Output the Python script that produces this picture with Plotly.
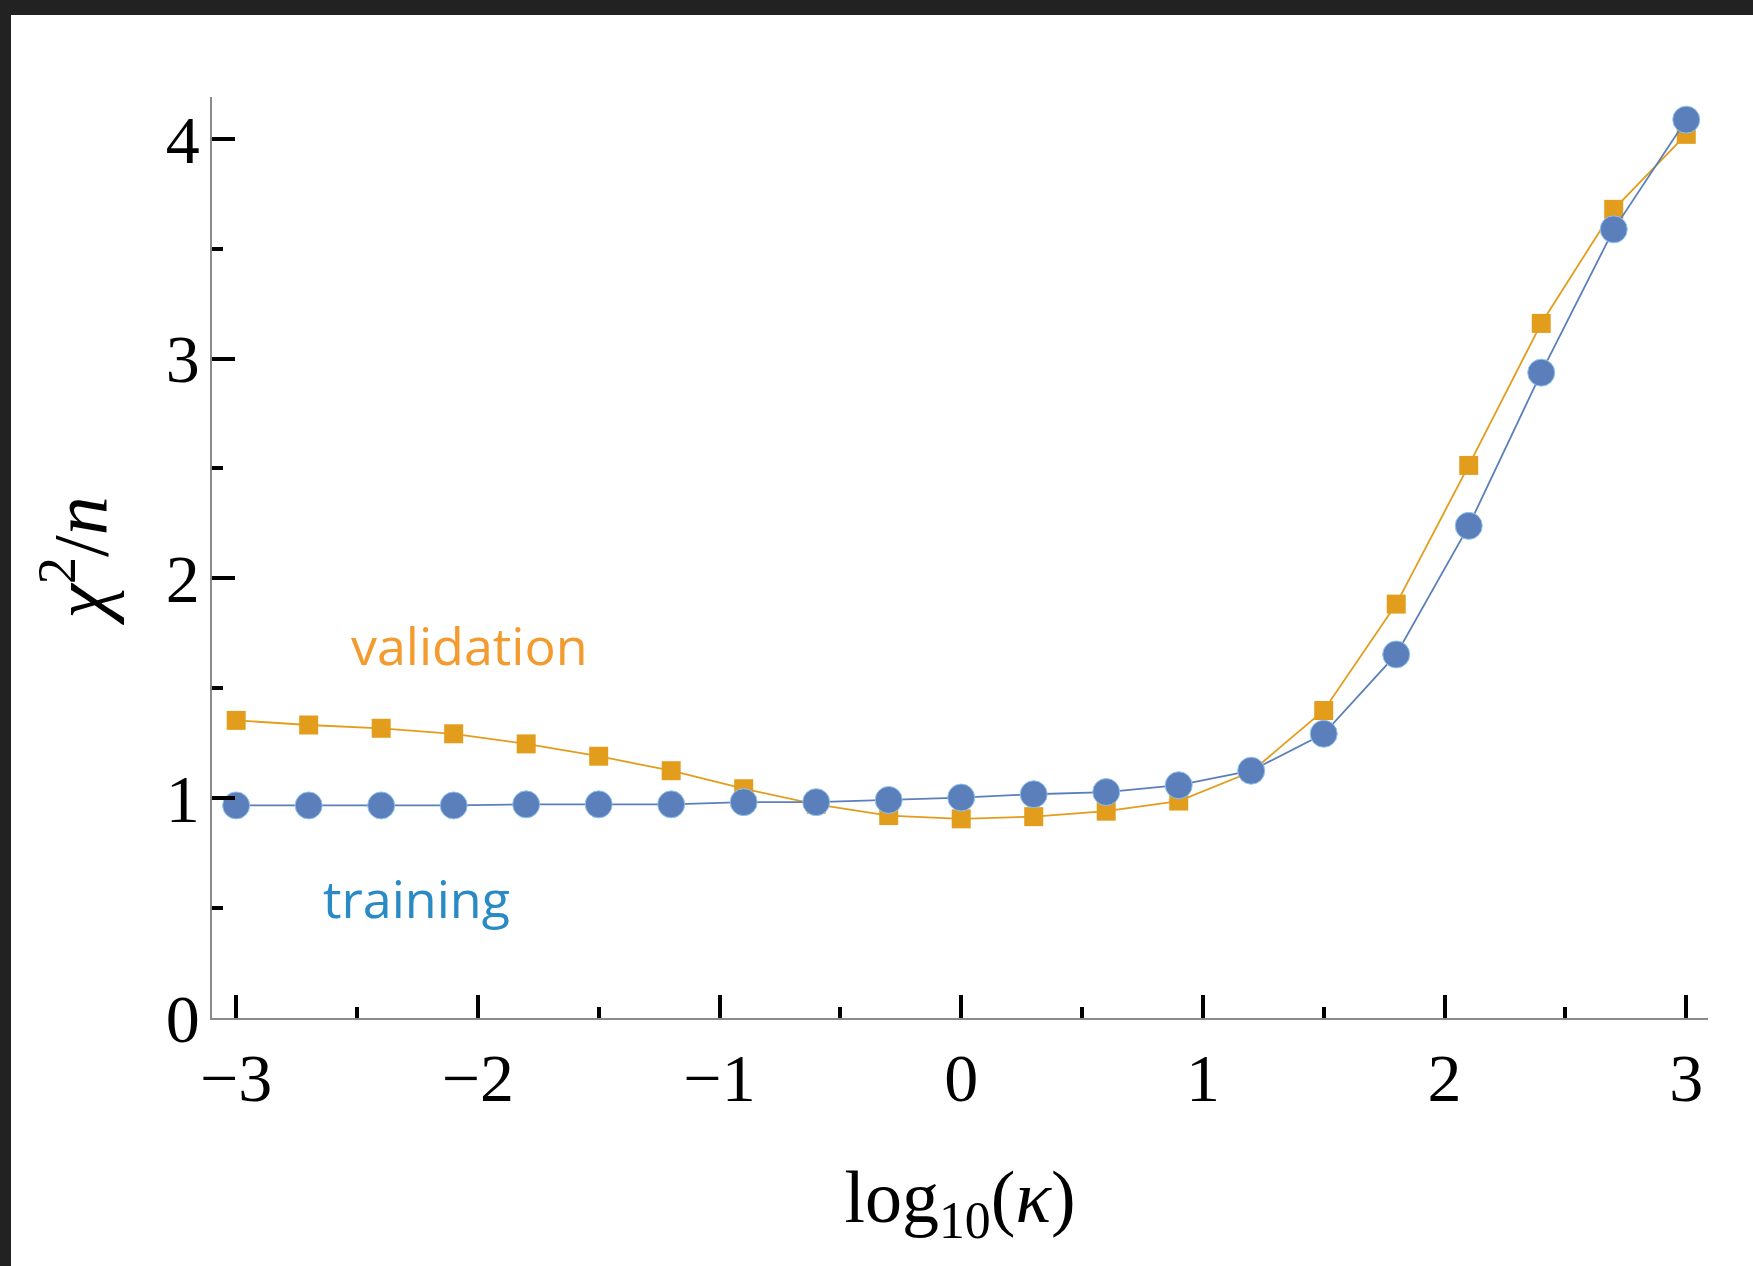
import plotly.graph_objects as go

x_vals = [-3.0, -2.7, -2.4, -2.1, -1.8, -1.5, -1.2, -0.9, -0.6, -0.3, 0.0,
          0.3, 0.6, 0.9, 1.2, 1.5, 1.8, 2.1, 2.4, 2.7, 3.0]
training = [0.967, 0.967, 0.967, 0.967, 0.972, 0.972, 0.972, 0.982, 0.982, 0.992, 1.003,
            1.018, 1.028, 1.059, 1.125, 1.293, 1.654, 2.239, 2.936, 3.588, 4.087]
validation = [1.354, 1.333, 1.318, 1.293, 1.247, 1.191, 1.125, 1.043, 0.972, 0.921, 0.906,
              0.916, 0.941, 0.987, 1.120, 1.399, 1.883, 2.514, 3.160, 3.679, 4.020]
x_ticks = [-3, -2, -1, 0, 1, 2, 3]
x_tick_labels = ["\u22123", "\u22122", "\u22121", "0", "1", "2", "3"]
y_ticks = [0, 1, 2, 3, 4]
y_tick_labels = ["0", "1", "2", "3", "4"]

W, H = 1753, 1266
ML, MR, MT, MB = 212, 45, 97, 248
PW, PH = W - ML - MR, H - MT - MB

BLUE = "#5B7FBB"
ORANGE = "#E39D1C"

fig = go.Figure()
fig.add_trace(go.Scatter(
    x=x_vals, y=validation, mode="lines+markers",
    line=dict(color=ORANGE, width=1.8),
    marker=dict(symbol="square", size=19, color=ORANGE),
    showlegend=False, cliponaxis=False))
fig.add_trace(go.Scatter(
    x=x_vals, y=training, mode="lines+markers",
    line=dict(color=BLUE, width=1.8),
    marker=dict(symbol="circle", size=27, color=BLUE, line=dict(color="#8fc3f0", width=1)),
    showlegend=False, cliponaxis=False))

serif = "Liberation Serif"
axis_common = dict(
    showgrid=False, zeroline=False, showline=True, linecolor="#8a8a8a", linewidth=1.5,
    ticks="inside", tickcolor="black", tickwidth=4, ticklen=23,
    tickfont=dict(family=serif, size=68, color="black"),
    mirror=False,
)

fig.update_layout(
    width=W, height=H,
    margin=dict(l=ML, r=MR, t=MT, b=MB),
    paper_bgcolor="white", plot_bgcolor="white",
    xaxis=dict(range=[-3.1, 3.09], tickmode="array", tickvals=x_ticks, ticktext=x_tick_labels,
               minor=dict(ticks="inside", dtick=0.5, tick0=0, ticklen=11, tickwidth=4, tickcolor="black"),
               ticklabelstandoff=0,
               title=dict(text="log<sub>10</sub>(<i>\u03ba</i>)", font=dict(family=serif, size=74, color="black"), standoff=55),
               **axis_common),
    yaxis=dict(range=[0, 4.19], tickmode="array", tickvals=y_ticks, ticktext=y_tick_labels,
               minor=dict(ticks="inside", dtick=0.5, tick0=0, ticklen=11, tickwidth=4, tickcolor="black"),
               ticklabelstandoff=-3,
               title=dict(text="<i>\u03c7</i><sup>2</sup>/<i>n</i>", font=dict(family=serif, size=78, color="black"), standoff=32),
               **axis_common),
)

fig.add_annotation(x=-2.033, y=1.70, xref="x", yref="y", text="validation", showarrow=False,
                   font=dict(family="Open Sans", size=52, color="#F39B2F"))
fig.add_annotation(x=-2.252, y=0.55, xref="x", yref="y", text="training", showarrow=False,
                   font=dict(family="Open Sans", size=52, color="#2A8AC6"))

def px_to_paper_x(px):
    return (px - ML) / PW

def px_to_paper_y(py):
    return (H - MB - py) / PH

DARK = "#222222"
fig.add_shape(type="rect", xref="paper", yref="paper",
              x0=px_to_paper_x(0), x1=px_to_paper_x(11), y0=px_to_paper_y(H), y1=px_to_paper_y(0),
              fillcolor=DARK, line=dict(width=0), layer="below")
fig.add_shape(type="rect", xref="paper", yref="paper",
              x0=px_to_paper_x(0), x1=px_to_paper_x(W), y0=px_to_paper_y(15), y1=px_to_paper_y(0),
              fillcolor=DARK, line=dict(width=0), layer="below")

fig.write_html("out.html", config={"displayModeBar": False},
               post_script="document.body.style.margin='0';")
